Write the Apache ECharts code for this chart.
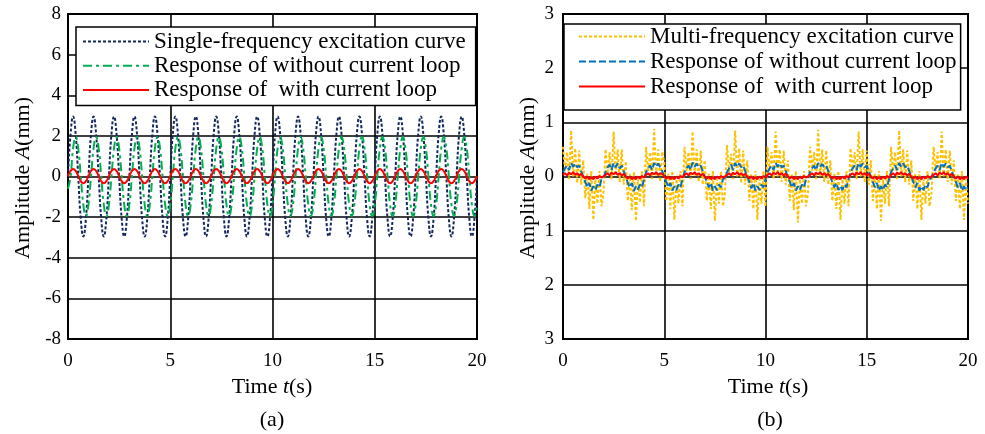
<!DOCTYPE html>
<html><head><meta charset="utf-8">
<script src="https://cdn.jsdelivr.net/npm/echarts@6/dist/echarts.min.js"></script>
<style>html,body{margin:0;padding:0;background:#fff}#c{width:985px;height:434px}</style>
</head><body><div id="c"></div>
<script>
// ---------- data (a) : sampled every 0.125 s, 0..20 s ----------
const dtA = 0.125;
const singleExc = [
0.00,2.08,2.95,2.08,0.00,-2.08,-2.95,-2.08,
0.00,2.08,2.95,2.08,0.00,-2.08,-2.95,-2.08,
0.00,2.08,2.95,2.08,0.00,-2.08,-2.95,-2.08,
0.00,2.08,2.95,2.08,0.00,-2.08,-2.95,-2.08,
0.00,2.08,2.95,2.08,0.00,-2.08,-2.95,-2.08,
0.00,2.08,2.95,2.08,0.00,-2.08,-2.95,-2.08,
0.00,2.08,2.95,2.08,0.00,-2.08,-2.95,-2.08,
0.00,2.08,2.95,2.08,0.00,-2.08,-2.95,-2.08,
0.00,2.08,2.95,2.08,0.00,-2.08,-2.95,-2.08,
0.00,2.08,2.95,2.08,0.00,-2.08,-2.95,-2.08,
0.00,2.08,2.95,2.08,0.00,-2.08,-2.95,-2.08,
0.00,2.08,2.95,2.08,0.00,-2.08,-2.95,-2.08,
0.00,2.08,2.95,2.08,0.00,-2.08,-2.95,-2.08,
0.00,2.08,2.95,2.08,0.00,-2.08,-2.95,-2.08,
0.00,2.08,2.95,2.08,0.00,-2.08,-2.95,-2.08,
0.00,2.08,2.95,2.08,0.00,-2.08,-2.95,-2.08,
0.00,2.08,2.95,2.08,0.00,-2.08,-2.95,-2.08,
0.00,2.08,2.95,2.08,0.00,-2.08,-2.95,-2.08,
0.00,2.08,2.95,2.08,0.00,-2.08,-2.95,-2.08,
0.00,2.08,2.95,2.08,0.00,-2.08,-2.95,-2.08,
0.00];
const respWithoutA = [
-0.60,0.00,1.38,1.95,1.38,0.00,-1.38,-1.95,
-1.38,0.00,1.38,1.95,1.38,0.00,-1.38,-1.95,
-1.38,0.00,1.38,1.95,1.38,0.00,-1.38,-1.95,
-1.38,0.00,1.38,1.95,1.38,0.00,-1.38,-1.95,
-1.38,0.00,1.38,1.95,1.38,0.00,-1.38,-1.95,
-1.38,0.00,1.38,1.95,1.38,0.00,-1.38,-1.95,
-1.38,0.00,1.38,1.95,1.38,0.00,-1.38,-1.95,
-1.38,0.00,1.38,1.95,1.38,0.00,-1.38,-1.95,
-1.38,0.00,1.38,1.95,1.38,0.00,-1.38,-1.95,
-1.38,0.00,1.38,1.95,1.38,0.00,-1.38,-1.95,
-1.38,0.00,1.38,1.95,1.38,0.00,-1.38,-1.95,
-1.38,0.00,1.38,1.95,1.38,0.00,-1.38,-1.95,
-1.38,0.00,1.38,1.95,1.38,0.00,-1.38,-1.95,
-1.38,0.00,1.38,1.95,1.38,0.00,-1.38,-1.95,
-1.38,0.00,1.38,1.95,1.38,0.00,-1.38,-1.95,
-1.38,0.00,1.38,1.95,1.38,0.00,-1.38,-1.95,
-1.38,0.00,1.38,1.95,1.38,0.00,-1.38,-1.95,
-1.38,0.00,1.38,1.95,1.38,0.00,-1.38,-1.95,
-1.38,0.00,1.38,1.95,1.38,0.00,-1.38,-1.95,
-1.38,0.00,1.38,1.95,1.38,0.00,-1.38,-1.95,
-1.38];
const respWithA = [
0.02,0.27,0.37,0.27,0.02,-0.23,-0.33,-0.23,
0.02,0.27,0.37,0.27,0.02,-0.23,-0.33,-0.23,
0.02,0.27,0.37,0.27,0.02,-0.23,-0.33,-0.23,
0.02,0.27,0.37,0.27,0.02,-0.23,-0.33,-0.23,
0.02,0.27,0.37,0.27,0.02,-0.23,-0.33,-0.23,
0.02,0.27,0.37,0.27,0.02,-0.23,-0.33,-0.23,
0.02,0.27,0.37,0.27,0.02,-0.23,-0.33,-0.23,
0.02,0.27,0.37,0.27,0.02,-0.23,-0.33,-0.23,
0.02,0.27,0.37,0.27,0.02,-0.23,-0.33,-0.23,
0.02,0.27,0.37,0.27,0.02,-0.23,-0.33,-0.23,
0.02,0.27,0.37,0.27,0.02,-0.23,-0.33,-0.23,
0.02,0.27,0.37,0.27,0.02,-0.23,-0.33,-0.23,
0.02,0.27,0.37,0.27,0.02,-0.23,-0.33,-0.23,
0.02,0.27,0.37,0.27,0.02,-0.23,-0.33,-0.23,
0.02,0.27,0.37,0.27,0.02,-0.23,-0.33,-0.23,
0.02,0.27,0.37,0.27,0.02,-0.23,-0.33,-0.23,
0.02,0.27,0.37,0.27,0.02,-0.23,-0.33,-0.23,
0.02,0.27,0.37,0.27,0.02,-0.23,-0.33,-0.23,
0.02,0.27,0.37,0.27,0.02,-0.23,-0.33,-0.23,
0.02,0.27,0.37,0.27,0.02,-0.23,-0.33,-0.23,
0.02];

// ---------- data (b) : sampled every 0.1 s, 0..20 s ----------
const dtB = 0.1;
const multiExc = [
0.55,0.10,0.45,-0.05,0.85,0.00,0.52,-0.12,0.48,-0.15,0.30,-0.40,0.05,-0.60,0.10,-0.80,-0.05,-0.50,0.10,-0.55,-0.30,
0.50,0.05,0.45,-0.05,0.83,0.02,0.50,-0.10,0.50,-0.15,0.28,-0.45,0.05,-0.62,0.08,-0.82,-0.05,-0.48,0.10,-0.55,
0.55,0.10,0.45,-0.05,0.88,0.00,0.50,-0.10,0.46,0.25,-0.45,0.05,-0.60,0.10,-0.80,-0.05,-0.50,0.10,-0.55,
0.55,0.10,0.45,-0.05,0.83,0.00,0.50,-0.10,0.48,-0.15,0.30,-0.45,0.05,-0.60,0.10,-0.82,-0.05,-0.50,0.10,-0.55,-0.30,
0.58,0.08,0.42,-0.05,0.85,0.00,0.52,-0.12,0.48,-0.15,0.30,-0.45,0.05,-0.60,0.10,-0.80,-0.05,-0.50,0.10,-0.55,
0.55,0.10,0.45,-0.05,0.83,0.00,0.50,-0.10,0.48,-0.15,0.30,-0.45,0.05,-0.62,0.10,-0.85,-0.05,-0.50,0.10,-0.55,-0.30,
0.55,0.10,0.45,-0.05,0.86,0.00,0.50,-0.10,0.48,-0.15,0.30,-0.45,0.05,-0.60,0.10,-0.80,-0.05,-0.50,0.10,-0.55,
0.52,0.10,0.45,-0.05,0.83,0.00,0.50,-0.10,0.48,-0.15,0.30,-0.45,0.05,-0.60,0.10,-0.82,-0.05,-0.50,0.10,-0.55,
0.55,0.10,0.45,-0.05,0.85,0.00,0.50,-0.10,0.48,-0.15,0.30,-0.45,0.05,-0.60,0.10,-0.80,-0.05,-0.50,0.10,-0.55,-0.30,
0.55,0.10,0.45,-0.05,0.83,0.00,0.50,-0.10,0.48,-0.15,0.30,-0.45,0.05,-0.60,0.10,-0.80,-0.05,-0.50];
const respWithoutB = [
0.08,0.15,0.20,0.12,0.25,0.18,0.24,0.17,0.20,0.10,0.00,-0.10,-0.20,-0.12,-0.26,-0.18,-0.25,-0.15,-0.20,-0.05,-0.02,
0.08,0.16,0.22,0.12,0.25,0.17,0.24,0.15,0.20,0.10,0.00,-0.12,-0.20,-0.12,-0.27,-0.18,-0.24,-0.15,-0.20,-0.05,
0.08,0.15,0.20,0.12,0.25,0.18,0.24,0.17,0.10,0.00,-0.10,-0.20,-0.12,-0.26,-0.18,-0.25,-0.15,-0.20,-0.05,
0.08,0.15,0.20,0.12,0.26,0.18,0.24,0.17,0.20,0.10,0.00,-0.10,-0.20,-0.12,-0.26,-0.18,-0.25,-0.15,-0.20,-0.05,-0.02,
0.08,0.15,0.22,0.12,0.25,0.18,0.24,0.17,0.20,0.10,0.00,-0.10,-0.22,-0.12,-0.26,-0.18,-0.25,-0.15,-0.20,-0.05,
0.08,0.15,0.20,0.12,0.25,0.18,0.24,0.17,0.20,0.10,0.00,-0.10,-0.20,-0.12,-0.26,-0.18,-0.25,-0.15,-0.20,-0.05,-0.02,
0.08,0.15,0.20,0.12,0.25,0.18,0.23,0.17,0.20,0.10,0.00,-0.10,-0.20,-0.12,-0.25,-0.18,-0.25,-0.15,-0.20,-0.05,
0.08,0.15,0.20,0.12,0.25,0.18,0.24,0.17,0.20,0.10,0.00,-0.10,-0.20,-0.12,-0.26,-0.18,-0.25,-0.15,-0.20,-0.05,
0.08,0.15,0.20,0.12,0.25,0.18,0.24,0.17,0.20,0.10,0.00,-0.10,-0.20,-0.12,-0.26,-0.18,-0.25,-0.15,-0.20,-0.05,-0.02,
0.08,0.15,0.20,0.12,0.25,0.18,0.24,0.17,0.20,0.10,0.00,-0.10,-0.20,-0.12,-0.26,-0.18,-0.25,-0.20];
const respWithB = [
0.03,0.06,0.02,0.07,0.04,0.08,0.03,0.06,0.02,0.05,0.00,-0.04,0.00,-0.05,-0.01,-0.05,0.00,-0.04,0.01,-0.02,0.00,
0.03,0.06,0.02,0.07,0.04,0.08,0.03,0.06,0.02,0.05,0.00,-0.04,0.00,-0.05,-0.01,-0.05,0.00,-0.04,0.01,-0.02,
0.03,0.06,0.02,0.07,0.04,0.08,0.03,0.06,0.05,0.00,-0.04,0.00,-0.05,-0.01,-0.05,0.00,-0.04,0.01,-0.02,
0.03,0.06,0.02,0.07,0.04,0.08,0.03,0.06,0.02,0.05,0.00,-0.04,0.00,-0.05,-0.01,-0.05,0.00,-0.04,0.01,-0.02,0.00,
0.03,0.06,0.02,0.07,0.04,0.08,0.03,0.06,0.02,0.05,0.00,-0.04,0.00,-0.05,-0.01,-0.05,0.00,-0.04,0.01,-0.02,
0.03,0.06,0.02,0.07,0.04,0.08,0.03,0.06,0.02,0.05,0.00,-0.04,0.00,-0.05,-0.01,-0.05,0.00,-0.04,0.01,-0.02,0.00,
0.03,0.06,0.02,0.07,0.04,0.08,0.03,0.06,0.02,0.05,0.00,-0.04,0.00,-0.05,-0.01,-0.05,0.00,-0.04,0.01,-0.02,
0.03,0.06,0.02,0.07,0.04,0.08,0.03,0.06,0.02,0.05,0.00,-0.04,0.00,-0.05,-0.01,-0.05,0.00,-0.04,0.01,-0.02,
0.03,0.06,0.02,0.07,0.04,0.08,0.03,0.06,0.02,0.05,0.00,-0.04,0.00,-0.05,-0.01,-0.05,0.00,-0.04,0.01,-0.02,0.00,
0.03,0.06,0.02,0.07,0.04,0.08,0.03,0.06,0.02,0.05,0.00,-0.04,0.00,-0.05,-0.01,-0.05,0.00,-0.04];

// ---------- ticks / labels ----------
const xTicks = [0, 5, 10, 15, 20];
const yTicksA = [-8, -6, -4, -2, 0, 2, 4, 6, 8];
const yTicksB = [-3, -2, -1, 0, 1, 2, 3];
const yLabelsB = ['3', '2', '1', '0', '1', '2', '3'];
const legendA = ['Single-frequency excitation curve', 'Response of without current loop', 'Response of  with current loop'];
const legendB = ['Multi-frequency excitation curve', 'Response of without current loop', 'Response of  with current loop'];

// ---------- build ----------
const FONT = "'Times New Roman','Liberation Serif',serif";
const pairs = (dt, arr) => arr.map((v, i) => [+(i * dt).toFixed(3), v]);
const namesB = legendB.map(n => n + '\u200B'); // distinct names for panel (b)

const chart = echarts.init(document.getElementById('c'), null, {renderer: 'canvas'});
const axisCommon = {
  axisLine: {show: false}, axisTick: {show: false},
  splitLine: {show: true, lineStyle: {color: '#000', width: 1.6}},
  axisLabel: {color: '#000', fontFamily: FONT, fontSize: 19}
};
const legendCommon = {
  orient: 'vertical', backgroundColor: '#fff', borderColor: '#000', borderWidth: 1.5,
  itemWidth: 66, itemHeight: 14, selectedMode: false, z: 10,
  itemStyle: {opacity: 0},
  textStyle: {fontFamily: FONT, fontSize: 23, color: '#000', lineHeight: 23}
};
chart.setOption({
  animation: false,
  grid: [
    {left: 68, top: 14, width: 409, height: 325, show: true, borderColor: '#000', borderWidth: 2, backgroundColor: 'transparent'},
    {left: 563, top: 14, width: 405, height: 325, show: true, borderColor: '#000', borderWidth: 2, backgroundColor: 'transparent'}
  ],
  xAxis: [
    Object.assign({}, axisCommon, {gridIndex: 0, type: 'value', min: 0, max: 20, interval: 5,
      axisLabel: Object.assign({}, axisCommon.axisLabel, {margin: 13})}),
    Object.assign({}, axisCommon, {gridIndex: 1, type: 'value', min: 0, max: 20, interval: 5,
      axisLabel: Object.assign({}, axisCommon.axisLabel, {margin: 13})})
  ],
  yAxis: [
    Object.assign({}, axisCommon, {gridIndex: 0, type: 'value', min: yTicksA[0], max: yTicksA[yTicksA.length-1], interval: 2,
      axisLabel: Object.assign({}, axisCommon.axisLabel, {margin: 7})}),
    Object.assign({}, axisCommon, {gridIndex: 1, type: 'value', min: yTicksB[0], max: yTicksB[yTicksB.length-1], interval: 1,
      axisLabel: Object.assign({}, axisCommon.axisLabel, {margin: 9,
        formatter: v => yLabelsB[yTicksB.indexOf(Math.round(v))]})})
  ],
  legend: [
    Object.assign({}, legendCommon, {data: legendA, left: 76, top: 27, itemGap: 1.2, padding: [3, 10, 4, 6]}),
    Object.assign({}, legendCommon, {data: namesB, left: 564, top: 24, itemGap: 2, padding: [1, 4, 12, 14]})
  ],
  series: [
    {name: legendA[0], type: 'line', xAxisIndex: 0, yAxisIndex: 0, data: pairs(dtA, singleExc), smooth: 0.5, symbol: 'none',
      lineStyle: {color: '#14285e', width: 2, type: [3, 2]}, itemStyle: {color: '#14285e'}},
    {name: legendA[1], type: 'line', xAxisIndex: 0, yAxisIndex: 0, data: pairs(dtA, respWithoutA), smooth: 0.5, symbol: 'none',
      lineStyle: {color: '#00b050', width: 2, type: [9, 4, 3, 4]}, itemStyle: {color: '#00b050'}},
    {name: legendA[2], type: 'line', xAxisIndex: 0, yAxisIndex: 0, data: pairs(dtA, respWithA), smooth: 0.5, symbol: 'none',
      lineStyle: {color: '#ff0000', width: 2}, itemStyle: {color: '#ff0000'}},
    {name: namesB[0], type: 'line', xAxisIndex: 1, yAxisIndex: 1, data: pairs(dtB, multiExc), symbol: 'none',
      lineStyle: {color: '#ffc000', width: 2, type: [3, 2]}, itemStyle: {color: '#ffc000'}},
    {name: namesB[1], type: 'line', xAxisIndex: 1, yAxisIndex: 1, data: pairs(dtB, respWithoutB), symbol: 'none',
      lineStyle: {color: '#0070c0', width: 2, type: [7, 3]}, itemStyle: {color: '#0070c0'}},
    {name: namesB[2], type: 'line', xAxisIndex: 1, yAxisIndex: 1, data: pairs(dtB, respWithB), symbol: 'none',
      lineStyle: {color: '#ff0000', width: 2}, itemStyle: {color: '#ff0000'}}
  ],
  graphic: [
    {type: 'text', x: 272, y: 387, style: {text: '{n|Time }{i|t}{n|(s)}', align: 'center', verticalAlign: 'middle',
      rich: {n: {fontFamily: FONT, fontSize: 22, fill: '#000'}, i: {fontFamily: FONT, fontSize: 22, fontStyle: 'italic', fill: '#000'}}}},
    {type: 'text', x: 768, y: 387, style: {text: '{n|Time }{i|t}{n|(s)}', align: 'center', verticalAlign: 'middle',
      rich: {n: {fontFamily: FONT, fontSize: 22, fill: '#000'}, i: {fontFamily: FONT, fontSize: 22, fontStyle: 'italic', fill: '#000'}}}},
    {type: 'text', x: 272, y: 420, style: {text: '(a)', align: 'center', verticalAlign: 'middle', font: "22px " + FONT, fill: '#000'}},
    {type: 'text', x: 770, y: 420, style: {text: '(b)', align: 'center', verticalAlign: 'middle', font: "22px " + FONT, fill: '#000'}},
    {type: 'text', x: 23, y: 178, rotation: Math.PI / 2, style: {text: '{n|Amplitude }{i|A}{n|(mm)}', align: 'center', verticalAlign: 'middle',
      rich: {n: {fontFamily: FONT, fontSize: 22, fill: '#000'}, i: {fontFamily: FONT, fontSize: 22, fontStyle: 'italic', fill: '#000'}}}},
    {type: 'text', x: 528, y: 178, rotation: Math.PI / 2, style: {text: '{n|Amplitude }{i|A}{n|(mm)}', align: 'center', verticalAlign: 'middle',
      rich: {n: {fontFamily: FONT, fontSize: 22, fill: '#000'}, i: {fontFamily: FONT, fontSize: 22, fontStyle: 'italic', fill: '#000'}}}}
  ]
});
</script></body></html>
